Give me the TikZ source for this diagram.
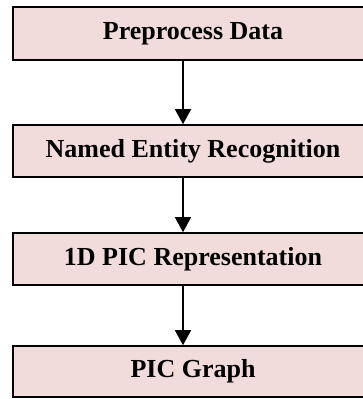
\documentclass[tikz,border=0pt]{standalone}
\usepackage{fontspec}
\setmainfont{Liberation Serif}
\usetikzlibrary{arrows.meta}
\definecolor{boxfill}{RGB}{242,220,219}
\tikzset{
  stepbox/.style={draw=black, fill=boxfill, line width=1.6pt, minimum width=360pt, inner sep=0pt,
    font=\fontsize{26}{30}\selectfont\bfseries},
  flow/.style={line width=1.5pt, -{Triangle[width=16pt,length=15pt]}}
}
\begin{document}
\begin{tikzpicture}[x=1pt,y=-1pt]
\clip (0,0) rectangle (363,399);
\fill[white] (0,0) rectangle (363,399);
\node[stepbox, minimum height=53pt] (a) at (193,33.5) {Preprocess Data};
\node[stepbox, minimum height=52pt] (b) at (193,151) {Named Entity Recognition};
\node[stepbox, minimum height=52pt] (c) at (193,259) {1D PIC Representation};
\node[stepbox, minimum height=51pt] (d) at (193,371.5) {PIC Graph};
\draw[flow] ([xshift=-10pt]a.south) -- ([xshift=-10pt]b.north);
\draw[flow] ([xshift=-10pt]b.south) -- ([xshift=-10pt]c.north);
\draw[flow] ([xshift=-10pt]c.south) -- ([xshift=-10pt]d.north);
\end{tikzpicture}
\end{document}
